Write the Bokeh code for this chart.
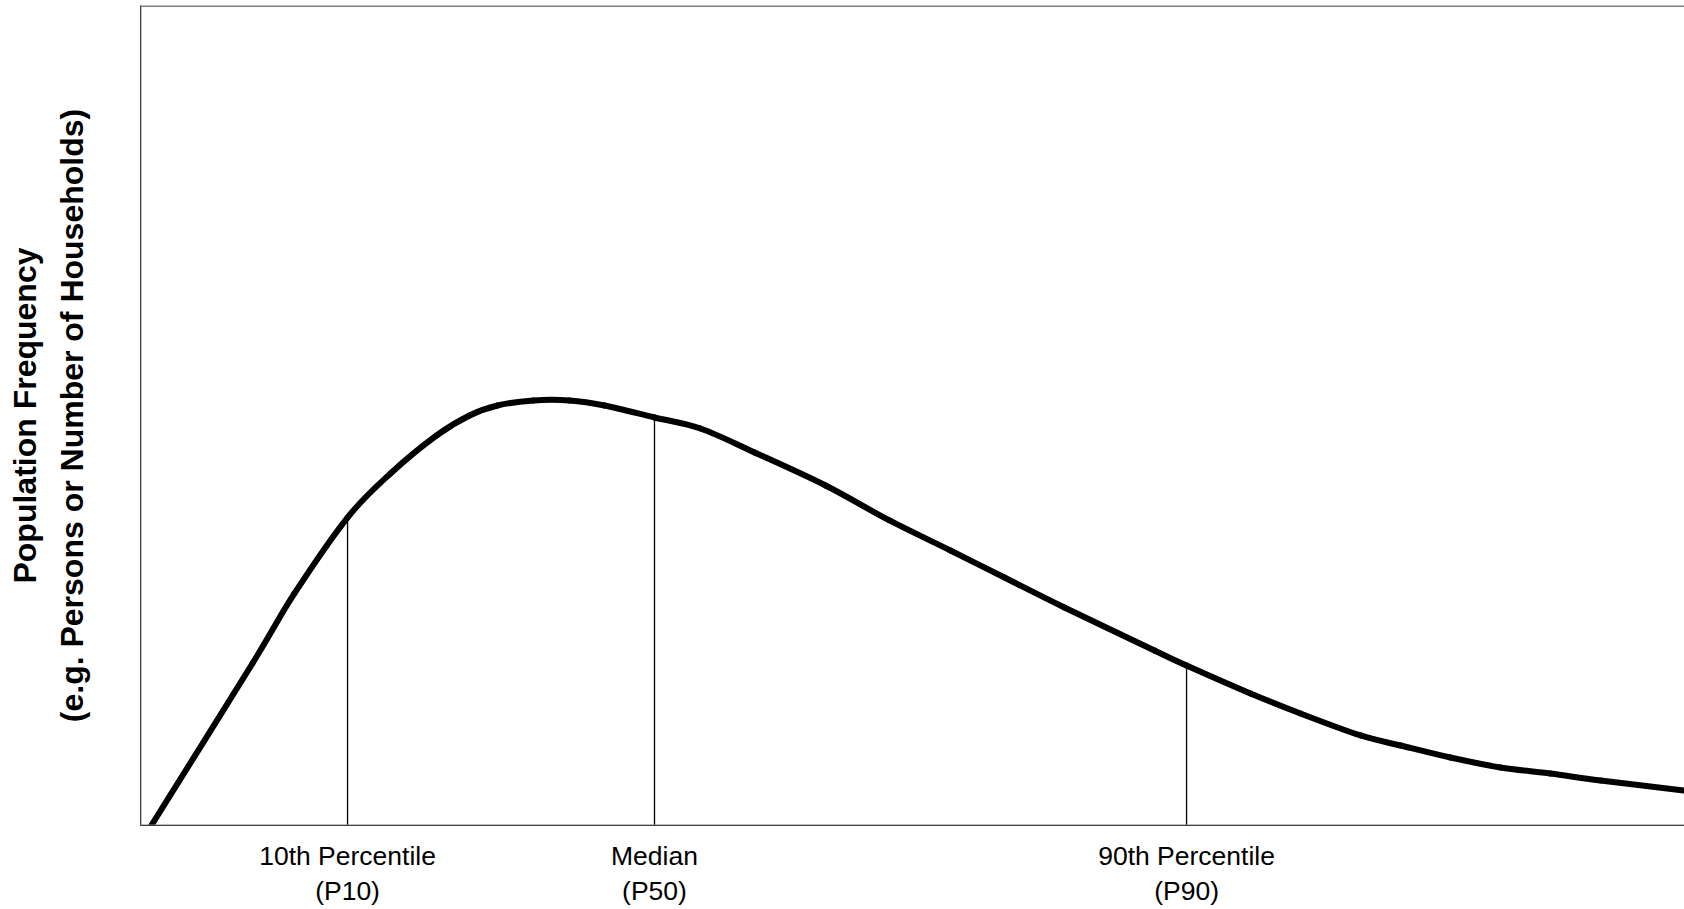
import numpy as np
from bokeh.plotting import figure
from bokeh.models import FixedTicker, Span, Range1d
from bokeh.embed import file_html
from bokeh.resources import INLINE

# Distribution curve (x: position along income scale, 0-100; y: frequency, 0-100)
curve_x = [0.7, 7.25, 9.97, 13.41, 16.19, 19.17, 21.31, 23.12, 25.45, 27.78, 30.05,
           33.29, 36.27, 39.77, 44.37, 48.51, 52.46, 55.96, 59.84, 65.67, 67.75,
           71.89, 75.13, 79.02, 81.61, 84.84, 88.08, 91.32, 94.56, 99.94]
curve_y = [0.0, 19.76, 28.3, 37.56, 42.93, 47.56, 50.0, 51.22, 51.83, 51.83, 51.22,
           49.76, 48.41, 45.49, 41.46, 37.2, 33.54, 30.24, 26.59, 21.34, 19.51,
           16.1, 13.66, 10.98, 9.76, 8.29, 7.07, 6.34, 5.49, 4.27]

# Percentile markers
pct_labels = ["10th Percentile\n(P10)", "Median\n(P50)", "90th Percentile\n(P90)"]
pct_x = [13.41, 33.29, 67.75]
pct_y = [37.4, 49.8, 19.5]
pct_base = [0, 0, 0]

y_title = ["Population Frequency", "(e.g. Persons or Number of Households)"]

X_END = 100
Y_END = 100

p = figure(width=1684, height=909, output_backend="svg", toolbar_location=None,
           x_range=Range1d(0, X_END), y_range=Range1d(0, Y_END),
           min_border_left=140, min_border_right=0, min_border_top=5,
           min_border_bottom=84)
p.grid.visible = False
p.outline_line_color = None
p.background_fill_color = "white"
p.border_fill_color = "white"

p.segment(x0=pct_x, y0=pct_base, x1=pct_x, y1=pct_y, line_color="black", line_width=1.3)

# smooth (Catmull-Rom style) rendering of the curve through the read points
P = np.column_stack([curve_x, curve_y])
Pm = np.vstack([P[:1], P[:-1]])        # previous points
Pn2 = np.vstack([P[2:], P[-1:]])       # point after next
c0 = P[:-1] + (P[1:] - Pm[:-1]) / 6.0
c1 = P[1:] - (Pn2 - P[:-1]) / 6.0
p.bezier(x0=P[:-1, 0], y0=P[:-1, 1], x1=P[1:, 0], y1=P[1:, 1],
         cx0=c0[:, 0], cy0=c0[:, 1], cx1=c1[:, 0], cy1=c1[:, 1],
         line_color="black", line_width=6, line_cap="round")

# frame edges (gray) - left, bottom, top
for loc, dim, w in [(0, "width", 2), (Y_END, "width", 3), (0, "height", 2)]:
    p.add_layout(Span(location=loc, dimension=dim, line_color="#808080", line_width=w))

# x axis with percentile labels
xa = p.xaxis[0]
xa.ticker = FixedTicker(ticks=pct_x)
xa.major_label_overrides = {k: v for k, v in zip(pct_x, pct_labels)}
xa.major_tick_line_color = None
xa.minor_tick_line_color = None
xa.major_tick_out = 0
xa.major_tick_in = 0
xa.axis_line_color = "black"
xa.axis_line_width = 1
xa.major_label_standoff = 15
xa.major_label_text_font = "Liberation Sans"
xa.major_label_text_font_size = "26.5px"
xa.major_label_text_color = "black"
xa.major_label_text_line_height = 1.17
xa.major_label_text_align = "center"

ya = p.yaxis[0]
ya.ticker = FixedTicker(ticks=[])
ya.major_tick_line_color = None
ya.minor_tick_line_color = None
ya.major_tick_out = 0
ya.major_label_text_font_size = "0px"
ya.axis_line_color = "black"
ya.axis_label = "\n".join(y_title)
ya.axis_label_standoff = 51
ya.axis_label_text_font = "Liberation Sans"
ya.axis_label_text_font_style = "bold"
ya.axis_label_text_font_size = "32px"
ya.axis_label_text_color = "black"
ya.axis_label_text_line_height = 1.28
ya.axis_label_text_align = "center"

open("out.html", "w").write(file_html(p, INLINE))
